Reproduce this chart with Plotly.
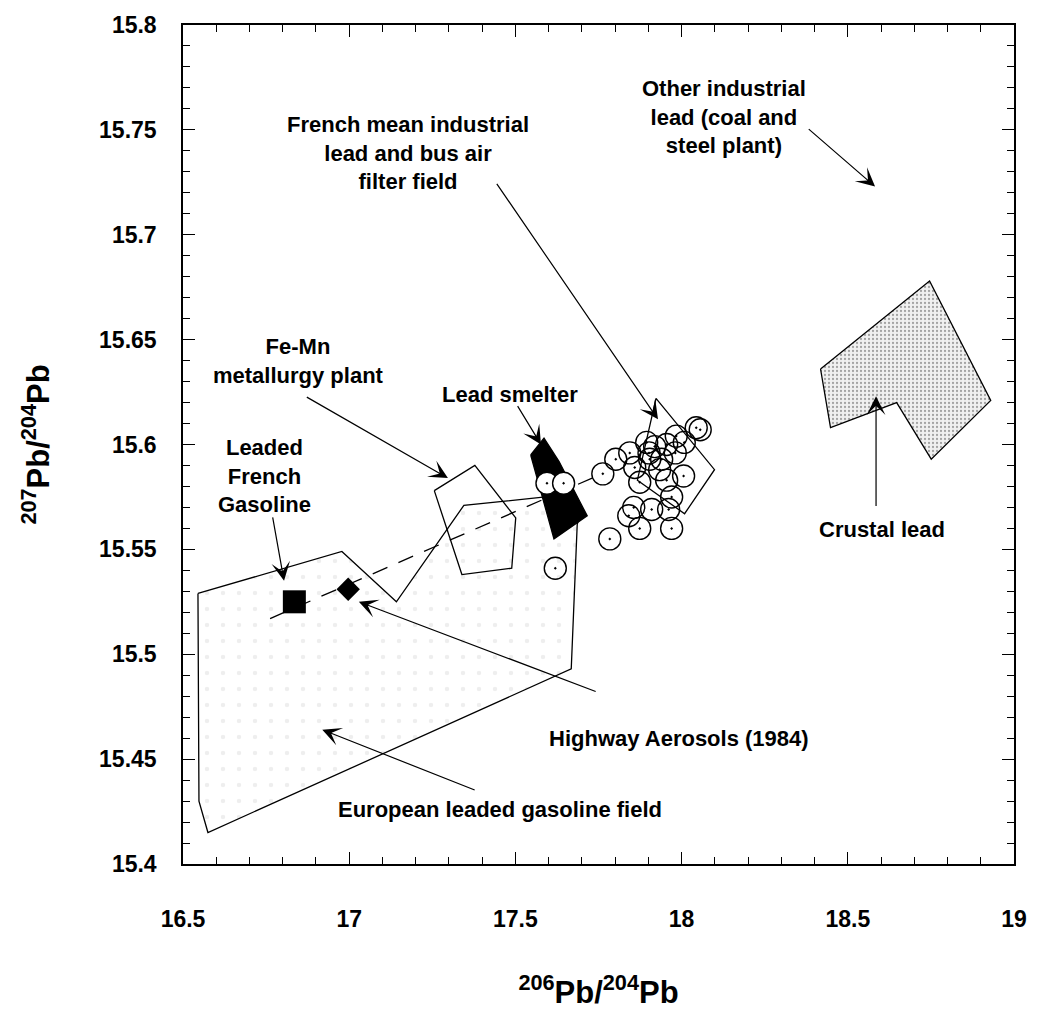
import plotly.graph_objects as go

# polygons (206Pb/204Pb, 207Pb/204Pb)
euro_x = [16.545, 16.978, 17.142, 17.345, 17.590, 17.700, 17.686, 17.668, 16.575, 16.548, 16.545]
euro_y = [15.529, 15.549, 15.525, 15.571, 15.575, 15.569, 15.562, 15.493, 15.415, 15.430, 15.529]

femn_x = [17.256, 17.378, 17.501, 17.489, 17.339, 17.256]
femn_y = [15.578, 15.590, 15.565, 15.541, 15.538, 15.578]

french_x = [17.923, 18.099, 18.009, 17.867, 17.923]
french_y = [15.622, 15.588, 15.567, 15.583, 15.622]

smelter_x = [17.546, 17.586, 17.631, 17.716, 17.616, 17.546]
smelter_y = [15.595, 15.603, 15.592, 15.566, 15.555, 15.595]

crust_x = [18.418, 18.746, 18.930, 18.751, 18.647, 18.448, 18.418]
crust_y = [15.636, 15.678, 15.621, 15.593, 15.620, 15.608, 15.636]

# trend line
trend_x = [16.762, 17.760]
trend_y = [15.517, 15.586]

# open circles (samples)
smelt_pts_x = [17.595, 17.645]
smelt_pts_y = [15.5815, 15.5815]
pts_x = [17.620, 17.763, 17.802, 17.844, 17.859, 17.895, 17.919, 17.955, 17.984, 18.008,
         18.044, 18.056, 17.940, 17.904, 17.874, 17.955, 18.006, 17.970, 17.856, 17.841,
         17.910, 17.961, 17.874, 17.970, 17.784, 17.934, 17.981, 17.902]
pts_y = [15.541, 15.586, 15.593, 15.596, 15.589, 15.601, 15.599, 15.600, 15.604, 15.601,
         15.608, 15.607, 15.593, 15.593, 15.582, 15.583, 15.585, 15.575, 15.570, 15.566,
         15.569, 15.569, 15.560, 15.560, 15.555, 15.588, 15.596, 15.596]

gasoline_x = [16.835]
gasoline_y = [15.525]
highway_x = [16.997]
highway_y = [15.531]

xtick_vals = [16.5, 17, 17.5, 18, 18.5, 19]
xtick_text = ['16.5', '17', '17.5', '18', '18.5', '19']
ytick_vals = [15.4, 15.45, 15.5, 15.55, 15.6, 15.65, 15.7, 15.75, 15.8]
ytick_text = ['15.4', '15.45', '15.5', '15.55', '15.6', '15.65', '15.7', '15.75', '15.8']

# labels: text, x, y, anchor
labels = [
    ('French mean industrial<br>lead and bus air<br>filter field', 17.177, 15.739, 'center'),
    ('Fe-Mn<br>metallurgy plant', 16.846, 15.640, 'center'),
    ('Lead smelter', 17.484, 15.624, 'center'),
    ('Leaded<br>French<br>Gasoline', 16.746, 15.585, 'center'),
    ('Other industrial<br>lead (coal and<br>steel plant)', 18.128, 15.756, 'center'),
    ('Crustal lead', 18.602, 15.5595, 'center'),
    ('Highway Aerosols (1984)', 17.596, 15.460, 'left'),
    ('European leaded gasoline field', 16.960, 15.426, 'left'),
]

# arrows: (tail x, tail y, head x, head y)
arrows = [
    (16.769, 15.566, 16.804, 15.535),
    (16.868, 15.623, 17.297, 15.584),
    (17.504, 15.619, 17.577, 15.600),
    (17.441, 15.725, 17.929, 15.612),
    (18.378, 15.751, 18.582, 15.723),
    (18.585, 15.570, 18.585, 15.623),
    (17.746, 15.482, 17.029, 15.525),
    (17.382, 15.435, 16.919, 15.464),
]

font_family = 'Liberation Sans, Arial, sans-serif'

fig = go.Figure()

fig.add_trace(go.Scatter(x=euro_x, y=euro_y, mode='lines', fill='toself',
                         fillcolor='white',
                         fillpattern=dict(shape='.', fgcolor='#dddddd', bgcolor='white',
                                          size=16, solidity=0.06),
                         line=dict(color='black', width=1.3)))
fig.add_trace(go.Scatter(x=femn_x, y=femn_y, mode='lines',
                         line=dict(color='black', width=1.3)))
fig.add_trace(go.Scatter(x=french_x, y=french_y, mode='lines',
                         line=dict(color='black', width=1.3)))
fig.add_trace(go.Scatter(x=trend_x, y=trend_y, mode='lines',
                         line=dict(color='black', width=1.3, dash='16px,12px')))
fig.add_trace(go.Scatter(x=crust_x, y=crust_y, mode='lines', fill='toself',
                         fillpattern=dict(shape='.', fgcolor='#555555', bgcolor='#f0f0f0',
                                          size=4, solidity=0.25),
                         line=dict(color='black', width=1.3)))
fig.add_trace(go.Scatter(x=smelter_x, y=smelter_y, mode='lines', fill='toself',
                         fillcolor='black', line=dict(color='black', width=1.3)))
fig.add_trace(go.Scatter(x=pts_x, y=pts_y, mode='markers',
                         marker=dict(symbol='circle-open-dot', size=22, color='black',
                                     line=dict(color='black', width=1.4))))
fig.add_trace(go.Scatter(x=smelt_pts_x, y=smelt_pts_y, mode='markers',
                         marker=dict(symbol='circle-dot', size=22, color='white',
                                     line=dict(color='black', width=1.4))))
fig.add_trace(go.Scatter(x=gasoline_x, y=gasoline_y, mode='markers',
                         marker=dict(symbol='square', size=23, color='black',
                                     line=dict(width=0))))
fig.add_trace(go.Scatter(x=highway_x, y=highway_y, mode='markers',
                         marker=dict(symbol='diamond', size=18, color='black',
                                     line=dict(width=0))))

for text, tx, ty, anchor in labels:
    fig.add_annotation(x=tx, y=ty, text=text, showarrow=False, xanchor=anchor,
                       align='center',
                       font=dict(family=font_family, size=22, color='black', weight='bold'))

for ax, ay, hx, hy in arrows:
    fig.add_annotation(x=hx, y=hy, ax=ax, ay=ay, xref='x', yref='y', axref='x', ayref='y',
                       text='', showarrow=True, arrowhead=3, arrowsize=2.6,
                       arrowwidth=1.2, arrowcolor='black', standoff=0)

axis_common = dict(showline=True, linecolor='black', linewidth=1.5, mirror='ticks',
                   ticks='inside', ticklen=12, tickwidth=1.3, tickcolor='black',
                   showgrid=False, zeroline=False,
                   tickfont=dict(family=font_family, size=23, color='black', weight='bold'))

fig.update_xaxes(range=[16.5, 19], tickvals=xtick_vals, ticktext=xtick_text,
                 minor=dict(dtick=0.1, tick0=16.5, ticks='inside', ticklen=7,
                            tickwidth=1.1, tickcolor='black', showgrid=False),
                 ticklabelstandoff=34,
                 title=dict(text='<sup>206</sup>Pb/<sup>204</sup>Pb', standoff=50,
                            font=dict(family=font_family, size=31, color='black',
                                      weight='bold')),
                 **axis_common)
fig.update_yaxes(range=[15.4, 15.8], tickvals=ytick_vals, ticktext=ytick_text,
                 minor=dict(dtick=0.01, tick0=15.4, ticks='inside', ticklen=7,
                            tickwidth=1.1, tickcolor='black', showgrid=False),
                 ticklabelstandoff=20,
                 title=dict(text='<sup>207</sup>Pb/<sup>204</sup>Pb', standoff=40,
                            font=dict(family=font_family, size=31, color='black',
                                      weight='bold')),
                 **axis_common)

fig.update_layout(width=1039, height=1016, showlegend=False,
                  paper_bgcolor='white', plot_bgcolor='white',
                  margin=dict(l=183, r=20, t=18, b=149))

# drop the default page margin so the figure sits at the window's top-left corner
fig.write_html('out.html', config={'displayModeBar': False},
               post_script="document.body.style.margin='0';document.body.style.overflow='hidden';")
